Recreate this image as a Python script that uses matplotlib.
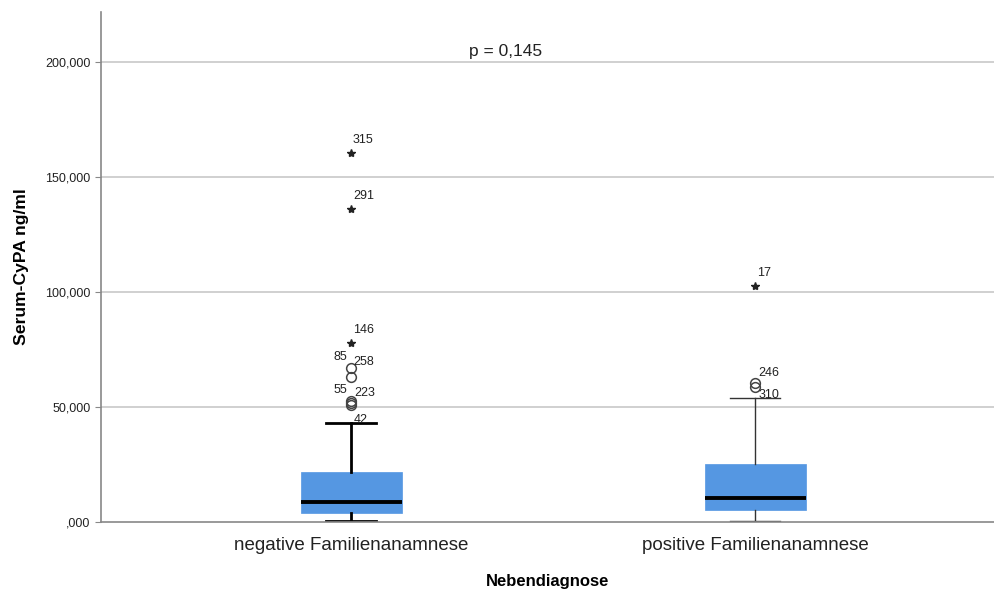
import numpy as np
import matplotlib
matplotlib.use('AGG')
import matplotlib.pyplot as plt

plt.rcParams['font.family'] = ['Liberation Sans', 'DejaVu Sans']

# box statistics per group (ng/ml)
groups = ['negative Familienanamnese', 'positive Familienanamnese']
whislo = [400, 300]
q1 = [3800, 5200]
med = [8900, 10600]
q3 = [21900, 25300]
whishi = [43300, 54200]

# outliers (circles) and extremes (stars), with case numbers
out_group = [0, 0, 0, 0, 0, 1, 1]
out_vals = [67000, 63300, 52800, 51800, 51000, 60400, 58700]
out_ids = ['258', '85', '55', '223', '42', '246', '310']
# label offsets in pixels (dx, dy) so the case numbers do not collide
out_offs = [(2, 6), (-4, 20), (-4, 11), (3, 10), (3, -15), (3, 10), (4, -8)]

ext_group = [0, 0, 0, 1]
ext_vals = [160600, 136200, 77900, 102800]
ext_ids = ['315', '291', '146', '17']

yticks = [0, 50000, 100000, 150000, 200000]
ytick_labels = [',000', '50,000', '100,000', '150,000', '200,000']
p_text = 'p = 0,145'


def main():
    fig = plt.figure(figsize=(9.95, 5.92), dpi=100)
    ax = fig.add_axes([0.1015, 0.118, 0.8985, 0.862])

    for y in yticks[1:]:
        ax.axhline(y, color='#c8c8c8', lw=1.2, zorder=0)

    pos = np.arange(len(groups))
    box_color = '#5597E2'
    for i in range(len(groups)):
        stats = [dict(med=med[i], q1=q1[i], q3=q3[i], whislo=whislo[i],
                      whishi=whishi[i], fliers=[])]
        wcol = 'black' if i == 0 else '#333333'
        wlw = 2.0 if i == 0 else 1.0
        ax.bxp(stats, positions=[pos[i]], widths=0.25, patch_artist=True,
               showfliers=False,
               boxprops=dict(facecolor=box_color, edgecolor=box_color, lw=0.5),
               medianprops=dict(color='black', lw=2.8),
               whiskerprops=dict(color=wcol, lw=wlw),
               capprops=dict(color=wcol, lw=wlw),
               capwidths=0.125, zorder=2)

    # outlier circles
    for g, v, lab, (dx, dy) in zip(out_group, out_vals, out_ids, out_offs):
        ax.plot(pos[g], v, 'o', mfc='none', mec='#444444', ms=7, mew=1.1, zorder=3)
        ax.annotate(lab, (pos[g], v), xytext=(dx, dy), textcoords='offset pixels',
                    fontsize=9, color='#222222', va='center',
                    ha='left' if dx > 0 else 'right')

    # extreme values
    for g, v, lab in zip(ext_group, ext_vals, ext_ids):
        ax.plot(pos[g], v, marker='*', color='#222222', ms=6, ls='none', zorder=3)
        ax.annotate(lab, (pos[g], v), xytext=(2, 13), textcoords='offset pixels',
                    fontsize=9, color='#222222', ha='left', va='center')

    ax.text(0.452, 204800, p_text, transform=ax.get_yaxis_transform(),
            fontsize=12.5, ha='center', va='center', color='#222222')

    ax.set_xlim(-0.619, 1.594)
    ax.set_ylim(0, 222000)
    ax.set_xticks(pos)
    ax.set_xticklabels(groups, fontsize=13.5, color='#222222')
    ax.set_yticks(yticks)
    ax.set_yticklabels(ytick_labels, fontsize=9, color='#222222')
    ax.tick_params(axis='x', length=0, pad=11)
    ax.tick_params(axis='y', length=4, color='#888888')

    for s in ['top', 'right']:
        ax.spines[s].set_visible(False)
    for s in ['left', 'bottom']:
        ax.spines[s].set_color('#888888')
        ax.spines[s].set_linewidth(1.2)

    ax.set_xlabel('Nebendiagnose', fontsize=12, fontweight='bold', labelpad=14)
    ax.set_ylabel('Serum-CyPA ng/ml', fontsize=12.6, fontweight='bold', labelpad=12)

    fig.savefig('out.png', dpi=100)


if __name__ == '__main__':
    main()
